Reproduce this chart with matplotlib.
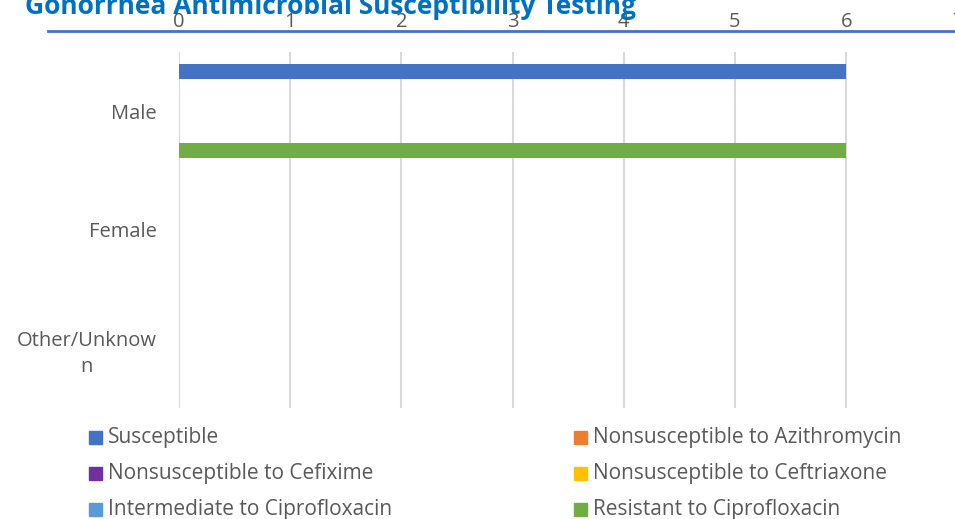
import matplotlib
matplotlib.use("Agg")
import matplotlib.pyplot as plt
from matplotlib.lines import Line2D
from matplotlib.patches import Rectangle

plt.rcParams['font.family'] = ['Open Sans', 'DejaVu Sans']

categories = ["Male", "Female", "Other/Unknow\nn"]
series_names = ["Susceptible", "Nonsusceptible to Azithromycin", "Nonsusceptible to Cefixime",
                "Nonsusceptible to Ceftriaxone", "Intermediate to Ciprofloxacin", "Resistant to Ciprofloxacin"]
series_values = [
    [6, 0, 0],
    [0, 0, 0],
    [0, 0, 0],
    [0, 0, 0],
    [0, 0, 0],
    [6, 0, 0],
]
colors = ["#4472C4", "#ED7D31", "#7030A0", "#FFC000", "#5B9BD5", "#70AD47"]
x_ticks = [0, 1, 2, 3, 4, 5, 6, 7]
title = "Gonorrhea Antimicrobial Susceptibility Testing"

W, H = 955, 519
fig = plt.figure(figsize=(W / 100, H / 100), dpi=100)

def fx(px):
    return px / W

def fy(py):
    return 1 - py / H

ax = fig.add_axes([fx(179), fy(407.5), fx(957.4) - fx(179), fy(51.75) - fy(407.5)])
n = len(series_names)
bh = 0.1333
for i, (name, vals, c) in enumerate(zip(series_names, series_values, colors)):
    ys = [k + (i - (n - 1) / 2) * bh for k in range(len(categories))]
    ax.barh(ys, vals, height=bh, color=c, label=name, zorder=3)

ax.set_xlim(0, 7)
ax.set_ylim(len(categories) - 0.5, -0.5)
ax.set_xticks(x_ticks)
ax.xaxis.tick_top()
ax.set_yticks(range(len(categories)))
ax.set_yticklabels(categories)
for t in ax.get_yticklabels():
    t.set_multialignment('center')
    t.set_linespacing(1.45)
ax.tick_params(axis='x', length=0, pad=14, labelsize=14.5, labelcolor="#595959")
ax.tick_params(axis='y', length=0, pad=16, labelsize=14.5, labelcolor="#595959")
ax.grid(axis='x', color="#D9D9D9", linewidth=1.5, zorder=0)
for s in ax.spines.values():
    s.set_visible(False)

# title
fig.text(fx(25), fy(14), title, color="#0070C0", fontsize=19, fontweight='bold',
         ha='left', va='baseline')
# underline
fig.add_artist(Line2D([fx(48), 1.0], [fy(31), fy(31)], color="#4472C4", linewidth=2))

# legend (manual, 2 columns)
col_x = [89, 574]
row_y = [437, 473, 509]
sq = 13
for i, (name, c) in enumerate(zip(series_names, colors)):
    col = i % 2
    row = i // 2
    x0 = col_x[col]
    y0 = row_y[row]
    fig.add_artist(Rectangle((fx(x0), fy(y0 + sq / 2)), fx(sq), fy(0) - fy(sq),
                             color=c, transform=fig.transFigure))
    fig.text(fx(x0 + 19), fy(y0), name, fontsize=15, color="#595959", ha='left', va='center')

fig.savefig("out.png", dpi=100)
